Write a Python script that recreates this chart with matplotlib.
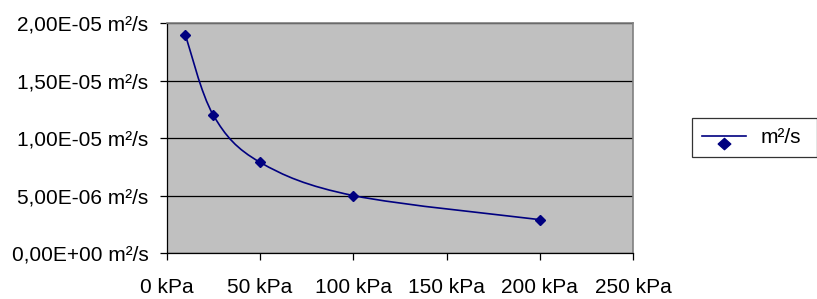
import matplotlib
matplotlib.use("Agg")
import matplotlib.pyplot as plt
from matplotlib.path import Path
import matplotlib.patches as mpatches
from matplotlib.lines import Line2D
from matplotlib.ticker import FuncFormatter, MultipleLocator

plt.rcParams['font.family'] = ['Liberation Sans', 'DejaVu Sans']

# pressure (kPa) and diffusivity (m²/s)
pressure = [10, 25, 50, 100, 200]
diffusivity = [1.9e-5, 1.2e-5, 7.9e-6, 5.0e-6, 2.9e-6]
series_label = 'm²/s'

navy = '#000080'

fig = plt.figure(figsize=(8.17, 2.99), dpi=100)
ax = fig.add_axes([0.204, 0.154, 0.571, 0.768])
ax.set_facecolor('#C0C0C0')

# smoothed line like Excel (Catmull-Rom bezier through the points)
pts = list(zip(pressure, diffusivity))
verts = [pts[0]]
codes = [Path.MOVETO]
for i in range(len(pts) - 1):
    p0 = pts[i - 1] if i > 0 else pts[i]
    p1 = pts[i]
    p2 = pts[i + 1]
    p3 = pts[i + 2] if i + 2 < len(pts) else pts[i + 1]
    c1 = (p1[0] + (p2[0] - p0[0]) / 6, p1[1] + (p2[1] - p0[1]) / 6)
    c2 = (p2[0] - (p3[0] - p1[0]) / 6, p2[1] - (p3[1] - p1[1]) / 6)
    verts += [c1, c2, p2]
    codes += [Path.CURVE4] * 3
ax.add_patch(mpatches.PathPatch(Path(verts, codes), fill=False,
                                edgecolor=navy, lw=1.2, zorder=3))
ax.plot(pressure, diffusivity, linestyle='None', marker='D', markersize=5.5,
        color=navy, zorder=4)

ax.set_xlim(0, 250)
ax.set_ylim(0, 2e-5)
ax.xaxis.set_major_locator(MultipleLocator(50))
ax.yaxis.set_major_locator(MultipleLocator(5e-6))
ax.xaxis.set_major_formatter(FuncFormatter(lambda v, p: f'{v:.0f} kPa'))
ax.yaxis.set_major_formatter(
    FuncFormatter(lambda v, p: f'{v:.2E}'.replace('.', ',') + ' m²/s'))

ax.grid(axis='y', color='black', lw=0.9)
ax.set_axisbelow(True)
for s in ['top', 'right']:
    ax.spines[s].set_color('#808080')
    ax.spines[s].set_linewidth(1.2)
for s in ['left', 'bottom']:
    ax.spines[s].set_color('black')
    ax.spines[s].set_linewidth(0.9)

ax.tick_params(axis='both', labelsize=15, direction='out', length=5, width=0.9)
ax.tick_params(axis='x', pad=13)
ax.tick_params(axis='y', pad=8)

# legend key: Excel draws the diamond a little below the line
low_diamond = Path([(0, -0.15), (0.5, -0.6), (0, -1.05), (-0.5, -0.6), (0, -0.15)],
                   [Path.MOVETO, Path.LINETO, Path.LINETO, Path.LINETO,
                    Path.CLOSEPOLY])
handle = Line2D([], [], color=navy, lw=1.2, marker=low_diamond,
                markersize=19, markeredgewidth=1)
leg = fig.legend([handle], [series_label], loc='center left',
                 bbox_to_anchor=(0.847, 0.54, 0.153, 0.0), mode='expand',
                 fontsize=15, frameon=True, fancybox=False, borderpad=0.5,
                 handlelength=2.1, handletextpad=0.7, borderaxespad=0)
leg.get_frame().set_edgecolor('black')
leg.get_frame().set_linewidth(0.9)

fig.savefig('out.png', dpi=100)
